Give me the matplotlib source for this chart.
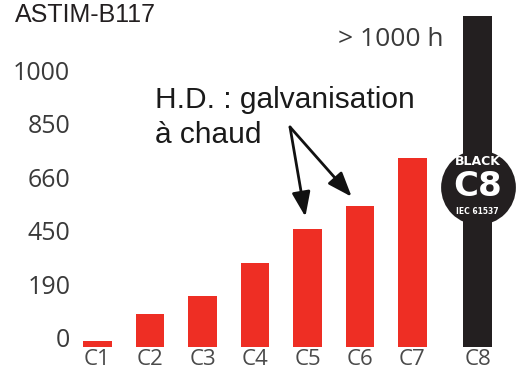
import numpy as np
import matplotlib
matplotlib.use("Agg")
import matplotlib.pyplot as plt

# salt spray resistance (hours) per corrosivity class
classes = ["C1", "C2", "C3", "C4", "C5", "C6", "C7", "C8"]
hours = [21, 117, 181, 339, 494, 584, 763, 1180]
tick_values = [0, 190, 450, 660, 850, 1000]
tick_labels = ["0", "190", "450", "660", "850", "1000"]
hd_classes = ["C5", "C6"]

RED = "#ee2e24"
BLACK = "#231f20"

# ticks are evenly spaced, so the axis is piecewise linear between them
grid = tick_values + [1150, 1300]
levels = np.arange(len(grid))


def forward(v):
    return np.interp(v, grid, levels)


def inverse(l):
    return np.interp(l, levels, grid)


fig = plt.figure(figsize=(5.21, 3.74), dpi=100)
ax = fig.add_axes([80 / 521, 27 / 374, 441 / 521, 347 / 374])
ax.set_yscale("function", functions=(forward, inverse))

x = np.arange(len(classes), dtype=float)
x[-1] += 0.24  # the black class sits a little apart
colors = [RED] * 7 + [BLACK]
ax.bar(x, hours, width=0.55, color=colors)

ax.set_xlim(-0.333, 8.067)
ax.set_ylim(0, 1225)

ax.set_yticks(tick_values)
ax.set_yticklabels(tick_labels, va="baseline", fontfamily="Open Sans",
                   fontsize=18, color="#3a3a3a")
ax.set_xticks(x)
ax.set_xticklabels(classes, fontfamily="Open Sans", fontsize=16, color="#4a4a4a")
ax.tick_params(axis="y", length=0, pad=7)
ax.tick_params(axis="x", length=0, pad=1.5)
for s in ax.spines.values():
    s.set_visible(False)

# badge on the C8 column
bx = x[-1]
ax.scatter([bx], [660], s=2900, color=BLACK, zorder=3, linewidths=0)
ax.annotate("BLACK", (bx, 660), xytext=(0, 18.4), textcoords="offset points",
            ha="center", va="center", color="white", fontsize=9,
            fontweight="bold", fontfamily="DejaVu Sans", zorder=4)
ax.annotate("C8", (bx, 660), xytext=(0, 0.5), textcoords="offset points",
            ha="center", va="center", color="white", fontsize=24.5,
            fontweight="bold", fontfamily="DejaVu Sans", zorder=4)
ax.annotate("IEC 61537", (bx, 660), xytext=(0, -17.5), textcoords="offset points",
            ha="center", va="center", color="white", fontsize=5.5,
            fontweight="bold", fontfamily="DejaVu Sans", zorder=4)

fig.text(443 / 521, 1 - 39 / 374, "> 1000 h", ha="right", va="center",
         fontfamily="Open Sans", fontsize=19, color="#3a3a3a")
fig.text(15 / 521, 1 - 22 / 374, "ASTIM-B117", ha="left", va="baseline",
         fontfamily="Liberation Sans", fontsize=18, color="#231f20")
fig.text(155 / 521, 1 - 108 / 374, "H.D. : galvanisation", ha="left",
         va="baseline", fontfamily="Liberation Sans", fontsize=21.5, color="#1a1a1a")
fig.text(155 / 521, 1 - 143 / 374, "à chaud", ha="left",
         va="baseline", fontfamily="Liberation Sans", fontsize=21.5, color="#1a1a1a")

# hot-dip galvanised classes
for c in hd_classes:
    i = classes.index(c)
    ax.annotate("", xy=(x[i], hours[i]), xytext=(290, 374 - 127),
                textcoords="figure pixels",
                arrowprops=dict(arrowstyle="-|>,head_length=0.75,head_width=0.28",
                                mutation_scale=20, color="#111111", lw=2,
                                shrinkA=0, shrinkB=9))

fig.savefig("out.png", dpi=100)
